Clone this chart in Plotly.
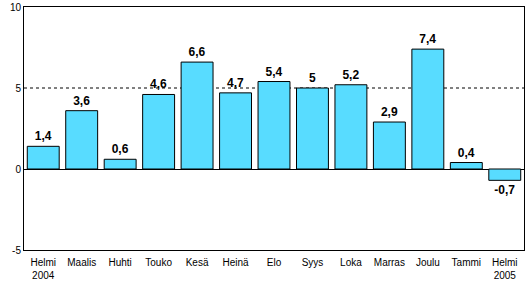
import plotly.graph_objects as go

months = ["Helmi<br>2004", "Maalis", "Huhti", "Touko", "Kesä", "Heinä", "Elo",
          "Syys", "Loka", "Marras", "Joulu", "Tammi", "Helmi<br>2005"]
values = [1.4, 3.6, 0.6, 4.6, 6.6, 4.7, 5.4, 5.0, 5.2, 2.9, 7.4, 0.4, -0.7]
labels = ["1,4", "3,6", "0,6", "4,6", "6,6", "4,7", "5,4", "5", "5,2", "2,9", "7,4", "0,4", "-0,7"]
y_ticks = [-5, 0, 5, 10]

fig = go.Figure()
fig.add_trace(go.Bar(
    x=list(range(len(months))), y=values,
    marker=dict(color="#58DCFF", line=dict(color="black", width=1)),
    text=["<b>%s</b>" % t for t in labels], textposition="outside",
    textfont=dict(family="Liberation Sans, Arial", size=12, color="black"),
    cliponaxis=False,
))
fig.add_shape(type="line", xref="paper", yref="y", x0=0, x1=1, y0=5, y1=5,
              line=dict(color="black", width=1, dash="3px,3px"), layer="below")
fig.update_layout(
    width=525, height=283,
    margin=dict(l=24, r=1, t=7, b=33),
    paper_bgcolor="white", plot_bgcolor="white",
    showlegend=False, bargap=0.17,
    font=dict(family="Liberation Sans, Arial", size=10, color="black"),
    xaxis=dict(tickmode="array", tickvals=list(range(len(months))), ticktext=months,
               range=[-0.5, len(months) - 0.5], showgrid=False, zeroline=False,
               showline=True, linecolor="black", linewidth=1, mirror=True,
               ticks="outside", ticklen=3, tickcolor="white", tickfont=dict(size=10)),
    yaxis=dict(range=[-5, 10], tickvals=y_ticks, ticktext=[str(v) for v in y_ticks],
               showgrid=False, zeroline=True, zerolinecolor="black", zerolinewidth=1,
               showline=True, linecolor="black", linewidth=1, mirror=True,
               ticks="", tickfont=dict(size=10)),
)
fig.write_html("out.html")
